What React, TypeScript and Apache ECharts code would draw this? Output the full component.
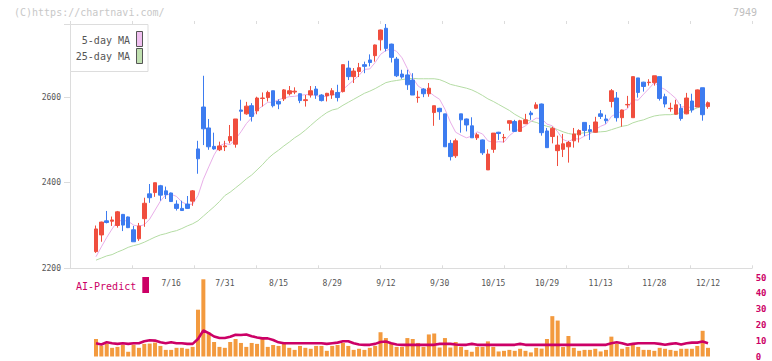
import React, { useEffect, useRef } from 'react';
import * as echarts from 'echarts';

const tickLabels = ['7/16', '7/31', '8/15', '8/29', '9/12', '9/30', '10/15', '10/29', '11/13', '11/28', '12/12'];
const tickIndex = [14, 24, 34, 44, 54, 64, 74, 84, 94, 104, 114];

const opens = [
  2239, 2278, 2311, 2310, 2300, 2326, 2320, 2290, 2269, 2316,
  2374, 2377, 2393, 2381, 2376, 2350, 2340, 2350, 2357, 2479,
  2577, 2528, 2485, 2477, 2484, 2498, 2490, 2570, 2561, 2580,
  2568, 2597, 2599, 2615, 2590, 2596, 2608, 2612, 2608, 2592,
  2605, 2619, 2605, 2603, 2605, 2611, 2613, 2668, 2648, 2660,
  2676, 2687, 2697, 2734, 2761, 2724, 2689, 2654, 2652, 2640,
  2599, 2619, 2608, 2564, 2574, 2561, 2492, 2463, 2561, 2549,
  2533, 2505, 2500, 2430, 2478, 2518, 2505, 2539, 2543, 2520,
  2538, 2563, 2574, 2584, 2521, 2508, 2475, 2478, 2484, 2498,
  2512, 2541, 2524, 2518, 2561, 2549, 2590, 2598, 2552, 2582,
  2552, 2645, 2635, 2634, 2634, 2648, 2601, 2573, 2560, 2574,
  2561, 2591, 2577, 2622, 2578,
];
const closes = [
  2292, 2308, 2307, 2313, 2332, 2301, 2295, 2262, 2299, 2352,
  2365, 2400, 2371, 2372, 2356, 2340, 2335, 2340, 2381, 2456,
  2526, 2484, 2479, 2486, 2486, 2508, 2549, 2567, 2579, 2555,
  2598, 2598, 2611, 2580, 2584, 2617, 2615, 2614, 2592, 2594,
  2615, 2605, 2592, 2609, 2615, 2599, 2676, 2648, 2661, 2669,
  2672, 2681, 2722, 2757, 2714, 2693, 2650, 2647, 2629, 2605,
  2600, 2608, 2621, 2580, 2566, 2484, 2461, 2498, 2547, 2535,
  2505, 2512, 2470, 2467, 2516, 2515, 2506, 2545, 2520, 2545,
  2547, 2559, 2582, 2517, 2482, 2527, 2488, 2491, 2494, 2514,
  2522, 2522, 2520, 2542, 2555, 2545, 2615, 2552, 2570, 2583,
  2648, 2611, 2625, 2635, 2650, 2597, 2584, 2574, 2582, 2550,
  2598, 2570, 2617, 2559, 2587,
];
const lows = [
  2236, 2262, 2305, 2299, 2295, 2287, 2294, 2262, 2264, 2297,
  2353, 2367, 2358, 2362, 2355, 2335, 2334, 2339, 2346, 2421,
  2488, 2477, 2477, 2474, 2474, 2492, 2482, 2545, 2559, 2543,
  2560, 2578, 2590, 2576, 2572, 2591, 2604, 2607, 2586, 2578,
  2599, 2596, 2590, 2590, 2596, 2590, 2611, 2640, 2633, 2647,
  2656, 2672, 2683, 2709, 2707, 2681, 2647, 2643, 2617, 2605,
  2587, 2600, 2601, 2533, 2547, 2484, 2452, 2458, 2517, 2520,
  2505, 2500, 2465, 2430, 2470, 2500, 2494, 2522, 2519, 2519,
  2537, 2547, 2572, 2510, 2482, 2492, 2439, 2460, 2447, 2482,
  2494, 2509, 2500, 2517, 2549, 2538, 2576, 2543, 2531, 2575,
  2552, 2599, 2613, 2627, 2627, 2592, 2576, 2566, 2559, 2545,
  2560, 2564, 2577, 2545, 2573,
];
const highs = [
  2300, 2309, 2334, 2321, 2334, 2327, 2321, 2299, 2306, 2365,
  2397, 2400, 2395, 2391, 2377, 2359, 2358, 2369, 2383, 2498,
  2650, 2549, 2517, 2496, 2498, 2535, 2549, 2594, 2589, 2586,
  2601, 2611, 2615, 2615, 2595, 2619, 2626, 2623, 2609, 2605,
  2626, 2626, 2607, 2610, 2621, 2629, 2676, 2685, 2668, 2680,
  2683, 2700, 2723, 2758, 2771, 2725, 2694, 2664, 2664, 2656,
  2615, 2621, 2633, 2580, 2575, 2561, 2500, 2503, 2561, 2550,
  2553, 2516, 2501, 2478, 2516, 2519, 2514, 2545, 2547, 2547,
  2561, 2568, 2588, 2585, 2528, 2531, 2510, 2514, 2498, 2528,
  2525, 2541, 2535, 2554, 2570, 2559, 2619, 2612, 2571, 2603,
  2648, 2645, 2636, 2642, 2650, 2648, 2608, 2587, 2594, 2584,
  2610, 2608, 2618, 2622, 2590,
];
const ma5 = [
  2227, 2250, 2272, 2292, 2310, 2312, 2310, 2301, 2298, 2302,
  2315, 2336, 2357, 2372, 2373, 2368, 2355, 2349, 2350, 2370,
  2408, 2437, 2465, 2486, 2492, 2489, 2502, 2519, 2538, 2552,
  2570, 2579, 2588, 2588, 2594, 2598, 2601, 2602, 2604, 2606,
  2606, 2604, 2600, 2603, 2607, 2604, 2618, 2629, 2640, 2651,
  2665, 2666, 2681, 2700, 2709, 2713, 2707, 2692, 2667, 2645,
  2626, 2618, 2613, 2603, 2595, 2572, 2542, 2518, 2511, 2505,
  2509, 2519, 2514, 2498, 2494, 2496, 2495, 2510, 2520, 2526,
  2533, 2543, 2551, 2550, 2537, 2533, 2519, 2501, 2496, 2503,
  2502, 2509, 2514, 2524, 2532, 2537, 2555, 2562, 2567, 2573,
  2594, 2593, 2607, 2620, 2634, 2624, 2618, 2608, 2597, 2577,
  2578, 2575, 2583, 2579, 2586,
];
const ma25 = [
  2219, 2224, 2229, 2232, 2238, 2243, 2249, 2253, 2256, 2261,
  2267, 2273, 2278, 2281, 2285, 2288, 2293, 2299, 2304, 2311,
  2322, 2333, 2344, 2356, 2370, 2378, 2388, 2398, 2409, 2418,
  2430, 2442, 2456, 2467, 2476, 2486, 2495, 2505, 2513, 2523,
  2534, 2545, 2555, 2564, 2570, 2573, 2581, 2588, 2595, 2602,
  2609, 2614, 2620, 2627, 2634, 2637, 2639, 2641, 2643, 2644,
  2643, 2643, 2643, 2643, 2641, 2636, 2630, 2627, 2624, 2621,
  2617, 2611, 2604, 2596, 2590, 2583, 2576, 2569, 2560, 2553,
  2547, 2544, 2541, 2536, 2532, 2529, 2524, 2519, 2515, 2513,
  2515, 2517, 2518, 2518, 2519, 2520, 2524, 2528, 2532, 2534,
  2540, 2544, 2547, 2552, 2556, 2558, 2559, 2559, 2561, 2564,
  2567, 2570, 2575, 2578, 2581,
];
const volume = [
  11.1, 6.9, 8.0, 5.5, 6.1, 7.5, 3.0, 7.5, 5.5, 8.0,
  8.2, 8.8, 6.7, 4.2, 4.2, 5.5, 5.5, 4.9, 6.1, 29.7,
  49.0, 15.2, 9.2, 6.1, 5.5, 9.2, 11.1, 8.6, 6.1, 8.6,
  8.0, 12.3, 6.1, 7.3, 6.7, 8.0, 5.5, 4.2, 6.7, 5.5,
  4.9, 6.7, 6.7, 3.6, 6.7, 7.3, 8.6, 6.7, 4.2, 4.9,
  4.2, 5.5, 6.7, 15.4, 11.7, 8.0, 6.1, 6.1, 11.7, 11.1,
  8.6, 6.1, 14.0, 14.6, 5.7, 11.7, 5.7, 9.2, 6.1, 4.2,
  3.0, 6.1, 6.1, 9.6, 6.1, 3.2, 3.6, 4.2, 3.6, 4.9,
  3.6, 2.6, 5.5, 5.0, 11.1, 25.6, 22.8, 6.0, 13.0, 5.5,
  3.6, 4.2, 4.2, 4.9, 3.2, 4.2, 12.6, 8.0, 4.9, 6.1,
  7.3, 6.1, 4.2, 4.2, 3.6, 5.5, 4.9, 4.2, 3.6, 4.9,
  4.9, 4.9, 6.7, 16.3, 5.5,
];
const aiPredict = [
  8.4, 7.6, 9.0, 8.4, 8.0, 8.4, 8.0, 8.4, 8.4, 9.7,
  10.3, 10.1, 9.0, 8.4, 9.0, 8.4, 8.4, 8.0, 8.0, 11.1,
  16.5, 14.8, 12.7, 11.7, 11.7, 12.5, 13.8, 13.6, 14.0, 12.9,
  12.1, 11.5, 11.5, 10.5, 9.0, 8.4, 8.4, 8.4, 8.4, 8.4,
  8.4, 8.4, 8.4, 8.0, 8.4, 8.8, 9.7, 9.7, 8.4, 7.6,
  7.4, 7.4, 8.0, 9.2, 9.5, 8.4, 7.6, 7.4, 7.4, 7.4,
  7.4, 7.4, 7.4, 7.4, 8.0, 8.0, 8.0, 7.6, 7.4, 7.4,
  8.0, 7.4, 7.4, 7.4, 7.4, 7.4, 7.4, 7.4, 7.4, 8.0,
  7.4, 7.4, 7.4, 7.4, 7.4, 7.4, 7.4, 7.4, 7.4, 7.4,
  7.4, 7.4, 7.4, 7.4, 7.4, 7.4, 8.4, 9.0, 8.4, 7.4,
  8.0, 8.4, 8.4, 8.4, 8.4, 8.0, 7.4, 8.0, 8.4, 7.6,
  8.4, 8.8, 8.8, 9.5, 8.4,
];

const MONO = '"DejaVu Sans Mono", monospace';
const AXIS = '#dcdcdc';

export default function App() {
  const ref = useRef<HTMLDivElement>(null);
  useEffect(() => {
    const chart = echarts.init(ref.current as HTMLDivElement, null, { renderer: 'svg' });
    const cats = closes.map((_, i) => String(i));
    const yMax = Math.max(...highs);
    const candles = closes.map((c, i) => [opens[i], c, lows[i], highs[i]]);
    const plotL = 93.3;
    const plotW = 617.4;
    chart.setOption({
      animation: false,
      grid: [
        { left: 70, top: 24, width: 682, height: 244.3 },
        { left: plotL, top: 24, width: plotW, height: 244.3 },
        { left: plotL, top: 277.7, width: plotW, height: 80.1 },
      ],
      xAxis: [
        {
          type: 'value', gridIndex: 0, min: 0, max: 11, interval: 1,
          axisLine: { show: true, lineStyle: { color: AXIS, width: 1 } },
          axisTick: { show: true, inside: true, length: 3, lineStyle: { color: AXIS } },
          axisLabel: { show: false }, splitLine: { show: false },
        },
        {
          type: 'value', gridIndex: 0, min: 0, max: 11, interval: 1,
          axisLine: { show: false },
          axisTick: { show: true, inside: false, length: 3, lineStyle: { color: AXIS } },
          axisLabel: { show: false }, splitLine: { show: false },
        },
        {
          type: 'category', gridIndex: 1, data: cats, boundaryGap: true,
          axisLine: { show: false }, axisTick: { show: false }, splitLine: { show: false },
          axisLabel: {
            interval: (index: number) => tickIndex.includes(index),
            formatter: (v: string) => {
              const k = tickIndex.indexOf(Number(v));
              return k >= 0 ? tickLabels[k] : '';
            },
            fontSize: 8, color: '#555', fontFamily: MONO, margin: 11,
          },
        },
        { type: 'category', gridIndex: 2, data: cats, boundaryGap: true, show: false },
      ],
      yAxis: [
        {
          type: 'value', gridIndex: 0, min: 2200, max: yMax, interval: 200,
          axisLine: { show: true, lineStyle: { color: AXIS } },
          axisTick: { show: true, length: 6, lineStyle: { color: AXIS } },
          splitLine: { show: false },
          axisLabel: {
            formatter: (v: number) => (v % 200 === 0 ? String(v) : ''),
            fontSize: 8, color: '#555', fontFamily: MONO, margin: 9,
          },
        },
        { type: 'value', gridIndex: 1, min: 2200, max: yMax, show: false, splitLine: { show: false } },
        {
          type: 'value', gridIndex: 2, min: 0, max: 50, interval: 10, position: 'right', offset: 37,
          axisLine: { show: false }, axisTick: { show: false }, splitLine: { show: false },
          axisLabel: { color: '#cc0066', fontWeight: 'bold', fontSize: 9, fontFamily: MONO, margin: 8 },
        },
      ],
      series: [
        {
          name: '25-day MA', type: 'line', xAxisIndex: 2, yAxisIndex: 1, data: ma25,
          showSymbol: false, lineStyle: { color: '#b4dca4', width: 1 }, z: 1,
        },
        {
          name: '5-day MA', type: 'line', xAxisIndex: 2, yAxisIndex: 1, data: ma5,
          showSymbol: false, lineStyle: { color: '#e8aee8', width: 1 }, z: 1,
        },
        {
          name: 'price', type: 'candlestick', xAxisIndex: 2, yAxisIndex: 1, data: candles,
          barWidth: 4,
          itemStyle: {
            color: '#f04e3e', color0: '#3d7cf0', borderColor: '#f04e3e', borderColor0: '#3d7cf0', borderWidth: 1,
          },
          z: 3,
        },
        {
          name: 'volume', type: 'bar', xAxisIndex: 3, yAxisIndex: 2, data: volume,
          barWidth: 4, itemStyle: { color: '#f39a3e' }, z: 1,
        },
        {
          name: 'AI-Predict', type: 'line', xAxisIndex: 3, yAxisIndex: 2, data: aiPredict,
          showSymbol: false, lineStyle: { color: '#cc0066', width: 2.6 }, z: 2,
        },
      ],
      graphic: [
        {
          type: 'text', left: 14, top: 7, z: 100,
          style: { text: '(C)https://chartnavi.com/', fill: '#c8c8c8', font: `10px ${MONO}` },
        },
        {
          type: 'text', left: 733, top: 7, z: 100,
          style: { text: '7949', fill: '#c0c0c0', font: `10px ${MONO}` },
        },
        {
          type: 'rect', z: 100, shape: { x: 70.5, y: 24.5, width: 77.5, height: 47 },
          style: { fill: '#fff', stroke: '#dddddd', lineWidth: 1 },
        },
        {
          type: 'text', z: 101, x: 130, y: 40,
          style: { text: '5-day MA', fill: '#555', font: `10px ${MONO}`, align: 'right', verticalAlign: 'middle' },
        },
        {
          type: 'rect', z: 101, shape: { x: 136.5, y: 31.5, width: 6, height: 15 },
          style: { fill: '#f0c0f0', stroke: '#555', lineWidth: 1 },
        },
        {
          type: 'text', z: 101, x: 130, y: 56.5,
          style: { text: '25-day MA', fill: '#555', font: `10px ${MONO}`, align: 'right', verticalAlign: 'middle' },
        },
        {
          type: 'rect', z: 101, shape: { x: 136.5, y: 48.5, width: 6, height: 15 },
          style: { fill: '#c0e0b0', stroke: '#555', lineWidth: 1 },
        },
        {
          type: 'text', z: 101, x: 76, y: 286,
          style: { text: 'AI-Predict', fill: '#cc0066', font: `10px ${MONO}`, align: 'left', verticalAlign: 'middle' },
        },
        {
          type: 'rect', z: 101, shape: { x: 142.3, y: 277, width: 6.7, height: 16 },
          style: { fill: '#cc0066' },
        },
      ],
    });
    return () => chart.dispose();
  }, []);
  return (
    <div
      ref={ref}
      style={{ position: 'fixed', left: 0, top: 0, width: '772px', height: '361px', background: '#fff' }}
    />
  );
}
